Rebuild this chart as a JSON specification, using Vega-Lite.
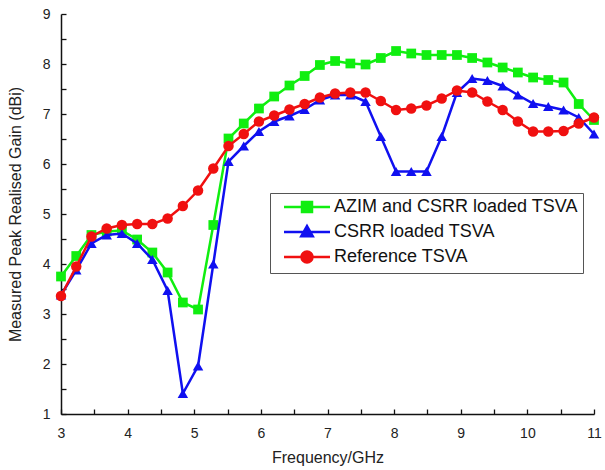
{
  "$schema": "https://vega.github.io/schema/vega-lite/v6.json",
  "width": 533,
  "height": 400,
  "autosize": {"type": "none"},
  "padding": {"left": 61, "top": 14, "right": 11, "bottom": 56},
  "background": "white",
  "config": {"font": "Liberation Sans", "view": {"stroke": null}},
  "datasets": {
    "gain": [
      {"f": 3, "g": 3.75, "s": "AZIM and CSRR loaded TSVA"},
      {"f": 3.229, "g": 4.16, "s": "AZIM and CSRR loaded TSVA"},
      {"f": 3.457, "g": 4.58, "s": "AZIM and CSRR loaded TSVA"},
      {"f": 3.686, "g": 4.65, "s": "AZIM and CSRR loaded TSVA"},
      {"f": 3.914, "g": 4.67, "s": "AZIM and CSRR loaded TSVA"},
      {"f": 4.143, "g": 4.49, "s": "AZIM and CSRR loaded TSVA"},
      {"f": 4.371, "g": 4.23, "s": "AZIM and CSRR loaded TSVA"},
      {"f": 4.6, "g": 3.83, "s": "AZIM and CSRR loaded TSVA"},
      {"f": 4.829, "g": 3.23, "s": "AZIM and CSRR loaded TSVA"},
      {"f": 5.057, "g": 3.09, "s": "AZIM and CSRR loaded TSVA"},
      {"f": 5.286, "g": 4.78, "s": "AZIM and CSRR loaded TSVA"},
      {"f": 5.514, "g": 6.51, "s": "AZIM and CSRR loaded TSVA"},
      {"f": 5.743, "g": 6.81, "s": "AZIM and CSRR loaded TSVA"},
      {"f": 5.971, "g": 7.11, "s": "AZIM and CSRR loaded TSVA"},
      {"f": 6.2, "g": 7.35, "s": "AZIM and CSRR loaded TSVA"},
      {"f": 6.429, "g": 7.57, "s": "AZIM and CSRR loaded TSVA"},
      {"f": 6.657, "g": 7.76, "s": "AZIM and CSRR loaded TSVA"},
      {"f": 6.886, "g": 7.98, "s": "AZIM and CSRR loaded TSVA"},
      {"f": 7.114, "g": 8.06, "s": "AZIM and CSRR loaded TSVA"},
      {"f": 7.343, "g": 8.01, "s": "AZIM and CSRR loaded TSVA"},
      {"f": 7.571, "g": 7.99, "s": "AZIM and CSRR loaded TSVA"},
      {"f": 7.8, "g": 8.12, "s": "AZIM and CSRR loaded TSVA"},
      {"f": 8.029, "g": 8.26, "s": "AZIM and CSRR loaded TSVA"},
      {"f": 8.257, "g": 8.21, "s": "AZIM and CSRR loaded TSVA"},
      {"f": 8.486, "g": 8.18, "s": "AZIM and CSRR loaded TSVA"},
      {"f": 8.714, "g": 8.18, "s": "AZIM and CSRR loaded TSVA"},
      {"f": 8.943, "g": 8.18, "s": "AZIM and CSRR loaded TSVA"},
      {"f": 9.171, "g": 8.12, "s": "AZIM and CSRR loaded TSVA"},
      {"f": 9.4, "g": 8.03, "s": "AZIM and CSRR loaded TSVA"},
      {"f": 9.629, "g": 7.93, "s": "AZIM and CSRR loaded TSVA"},
      {"f": 9.857, "g": 7.83, "s": "AZIM and CSRR loaded TSVA"},
      {"f": 10.086, "g": 7.73, "s": "AZIM and CSRR loaded TSVA"},
      {"f": 10.314, "g": 7.68, "s": "AZIM and CSRR loaded TSVA"},
      {"f": 10.543, "g": 7.63, "s": "AZIM and CSRR loaded TSVA"},
      {"f": 10.771, "g": 7.2, "s": "AZIM and CSRR loaded TSVA"},
      {"f": 11, "g": 6.88, "s": "AZIM and CSRR loaded TSVA"},
      {"f": 3, "g": 3.38, "s": "CSRR loaded TSVA"},
      {"f": 3.229, "g": 3.88, "s": "CSRR loaded TSVA"},
      {"f": 3.457, "g": 4.41, "s": "CSRR loaded TSVA"},
      {"f": 3.686, "g": 4.58, "s": "CSRR loaded TSVA"},
      {"f": 3.914, "g": 4.61, "s": "CSRR loaded TSVA"},
      {"f": 4.143, "g": 4.41, "s": "CSRR loaded TSVA"},
      {"f": 4.371, "g": 4.09, "s": "CSRR loaded TSVA"},
      {"f": 4.6, "g": 3.47, "s": "CSRR loaded TSVA"},
      {"f": 4.829, "g": 1.41, "s": "CSRR loaded TSVA"},
      {"f": 5.057, "g": 1.96, "s": "CSRR loaded TSVA"},
      {"f": 5.286, "g": 4.0, "s": "CSRR loaded TSVA"},
      {"f": 5.514, "g": 6.05, "s": "CSRR loaded TSVA"},
      {"f": 5.743, "g": 6.36, "s": "CSRR loaded TSVA"},
      {"f": 5.971, "g": 6.65, "s": "CSRR loaded TSVA"},
      {"f": 6.2, "g": 6.85, "s": "CSRR loaded TSVA"},
      {"f": 6.429, "g": 6.96, "s": "CSRR loaded TSVA"},
      {"f": 6.657, "g": 7.09, "s": "CSRR loaded TSVA"},
      {"f": 6.886, "g": 7.28, "s": "CSRR loaded TSVA"},
      {"f": 7.114, "g": 7.38, "s": "CSRR loaded TSVA"},
      {"f": 7.343, "g": 7.38, "s": "CSRR loaded TSVA"},
      {"f": 7.571, "g": 7.25, "s": "CSRR loaded TSVA"},
      {"f": 7.8, "g": 6.55, "s": "CSRR loaded TSVA"},
      {"f": 8.029, "g": 5.85, "s": "CSRR loaded TSVA"},
      {"f": 8.257, "g": 5.85, "s": "CSRR loaded TSVA"},
      {"f": 8.486, "g": 5.85, "s": "CSRR loaded TSVA"},
      {"f": 8.714, "g": 6.55, "s": "CSRR loaded TSVA"},
      {"f": 8.943, "g": 7.43, "s": "CSRR loaded TSVA"},
      {"f": 9.171, "g": 7.71, "s": "CSRR loaded TSVA"},
      {"f": 9.4, "g": 7.67, "s": "CSRR loaded TSVA"},
      {"f": 9.629, "g": 7.56, "s": "CSRR loaded TSVA"},
      {"f": 9.857, "g": 7.38, "s": "CSRR loaded TSVA"},
      {"f": 10.086, "g": 7.21, "s": "CSRR loaded TSVA"},
      {"f": 10.314, "g": 7.15, "s": "CSRR loaded TSVA"},
      {"f": 10.543, "g": 7.08, "s": "CSRR loaded TSVA"},
      {"f": 10.771, "g": 6.93, "s": "CSRR loaded TSVA"},
      {"f": 11, "g": 6.6, "s": "CSRR loaded TSVA"},
      {"f": 3, "g": 3.36, "s": "Reference TSVA"},
      {"f": 3.229, "g": 3.95, "s": "Reference TSVA"},
      {"f": 3.457, "g": 4.55, "s": "Reference TSVA"},
      {"f": 3.686, "g": 4.71, "s": "Reference TSVA"},
      {"f": 3.914, "g": 4.78, "s": "Reference TSVA"},
      {"f": 4.143, "g": 4.8, "s": "Reference TSVA"},
      {"f": 4.371, "g": 4.8, "s": "Reference TSVA"},
      {"f": 4.6, "g": 4.91, "s": "Reference TSVA"},
      {"f": 4.829, "g": 5.16, "s": "Reference TSVA"},
      {"f": 5.057, "g": 5.47, "s": "Reference TSVA"},
      {"f": 5.286, "g": 5.91, "s": "Reference TSVA"},
      {"f": 5.514, "g": 6.36, "s": "Reference TSVA"},
      {"f": 5.743, "g": 6.6, "s": "Reference TSVA"},
      {"f": 5.971, "g": 6.85, "s": "Reference TSVA"},
      {"f": 6.2, "g": 6.97, "s": "Reference TSVA"},
      {"f": 6.429, "g": 7.09, "s": "Reference TSVA"},
      {"f": 6.657, "g": 7.2, "s": "Reference TSVA"},
      {"f": 6.886, "g": 7.33, "s": "Reference TSVA"},
      {"f": 7.114, "g": 7.41, "s": "Reference TSVA"},
      {"f": 7.343, "g": 7.43, "s": "Reference TSVA"},
      {"f": 7.571, "g": 7.43, "s": "Reference TSVA"},
      {"f": 7.8, "g": 7.26, "s": "Reference TSVA"},
      {"f": 8.029, "g": 7.08, "s": "Reference TSVA"},
      {"f": 8.257, "g": 7.11, "s": "Reference TSVA"},
      {"f": 8.486, "g": 7.17, "s": "Reference TSVA"},
      {"f": 8.714, "g": 7.31, "s": "Reference TSVA"},
      {"f": 8.943, "g": 7.47, "s": "Reference TSVA"},
      {"f": 9.171, "g": 7.43, "s": "Reference TSVA"},
      {"f": 9.4, "g": 7.25, "s": "Reference TSVA"},
      {"f": 9.629, "g": 7.08, "s": "Reference TSVA"},
      {"f": 9.857, "g": 6.85, "s": "Reference TSVA"},
      {"f": 10.086, "g": 6.65, "s": "Reference TSVA"},
      {"f": 10.314, "g": 6.65, "s": "Reference TSVA"},
      {"f": 10.543, "g": 6.66, "s": "Reference TSVA"},
      {"f": 10.771, "g": 6.81, "s": "Reference TSVA"},
      {"f": 11, "g": 6.93, "s": "Reference TSVA"}
    ]
  },
  "data": {"name": "gain"},
  "encoding": {
    "x": {
      "field": "f", "type": "quantitative",
      "scale": {"domain": [3, 11], "nice": false, "zero": false},
      "axis": {
        "title": "Frequency/GHz",
        "values": [3, 3.5, 4, 4.5, 5, 5.5, 6, 6.5, 7, 7.5, 8, 8.5, 9, 9.5, 10, 10.5, 11],
        "labelExpr": "datum.value % 1 === 0 ? format(datum.value, 'd') : ''",
        "grid": false, "domainColor": "#111", "domainWidth": 1.5,
        "tickColor": "#111", "tickSize": -5, "tickWidth": 1.3,
        "labelFontSize": 14, "labelColor": "#222", "labelPadding": 17,
        "labelFlush": false, "labelOverlap": false,
        "titleFontSize": 16, "titleFontWeight": "normal", "titleColor": "#222", "titlePadding": 9
      }
    },
    "y": {
      "field": "g", "type": "quantitative",
      "scale": {"domain": [1, 9], "nice": false, "zero": false},
      "axis": {
        "title": "Measured Peak Realised Gain (dBi)",
        "values": [1, 1.5, 2, 2.5, 3, 3.5, 4, 4.5, 5, 5.5, 6, 6.5, 7, 7.5, 8, 8.5, 9],
        "labelExpr": "datum.value % 1 === 0 ? format(datum.value, 'd') : ''",
        "grid": false, "domainColor": "#111", "domainWidth": 1.5,
        "tickColor": "#111", "tickSize": -5, "tickWidth": 1.3,
        "labelFontSize": 14, "labelColor": "#222", "labelPadding": 16,
        "labelFlush": false, "labelOverlap": false,
        "titleFontSize": 16, "titleFontWeight": "normal", "titleColor": "#222", "titlePadding": 19
      }
    },
    "color": {
      "field": "s", "type": "nominal",
      "scale": {
        "domain": ["AZIM and CSRR loaded TSVA", "CSRR loaded TSVA", "Reference TSVA"],
        "range": ["#10ee10", "#1010f0", "#f01010"]
      },
      "legend": {
        "orient": "none", "legendX": 209, "legendY": 179,
        "title": null,
        "strokeColor": "#555", "fillColor": "white", "padding": 5,
        "labelFont": "Liberation Sans", "labelFontSize": 18, "labelColor": "#111", "labelLimit": 400,
        "symbolSize": 100, "symbolStrokeWidth": 2.5, "symbolOffset": 23, "labelOffset": 18,
        "rowPadding": 4,
        "encode": {
          "symbols": {
            "update": {
              "shape": {"signal": "datum.value === 'AZIM and CSRR loaded TSVA' ? 'M-4.6,0L4.6,0M-1,-1L1,-1L1,1L-1,1Z' : datum.value === 'CSRR loaded TSVA' ? 'M-4.6,0L4.6,0M0,-1.2L1.15,0.85L-1.15,0.85Z' : 'M-4.6,0L4.6,0M1.1,0A1.1,1.1,0,1,1,-1.1,0A1.1,1.1,0,1,1,1.1,0Z'"},
              "fill": {"signal": "scale('color', datum.value)"},
              "stroke": {"signal": "scale('color', datum.value)"},
              "strokeWidth": {"value": 2.5},
              "opacity": {"value": 1}
            }
          }
        }
      }
    }
  },
  "layer": [
    {
      "transform": [{"filter": "datum.s === 'AZIM and CSRR loaded TSVA'"}],
      "mark": {"type": "line", "strokeWidth": 2.5, "point": {"shape": "square", "filled": true, "size": 95, "opacity": 1}}
    },
    {
      "transform": [{"filter": "datum.s === 'CSRR loaded TSVA'"}],
      "mark": {"type": "line", "strokeWidth": 2.5, "point": {"shape": "triangle-up", "filled": true, "size": 110, "opacity": 1}}
    },
    {
      "transform": [{"filter": "datum.s === 'Reference TSVA'"}],
      "mark": {"type": "line", "strokeWidth": 2.5, "point": {"shape": "circle", "filled": true, "size": 110, "opacity": 1}}
    }
  ]
}
